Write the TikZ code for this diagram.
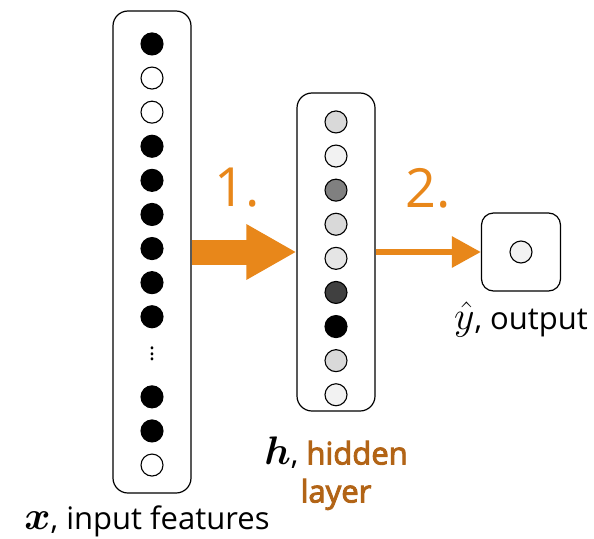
\documentclass[tikz,border=0pt]{standalone}
\usepackage{fontspec,amsmath,bm}
\setmainfont{Open Sans}
\newfontfamily\semib{Open Sans}[FakeBold=3]
\usetikzlibrary{positioning,arrows.meta}
\definecolor{arrorange}{RGB}{232,135,26}
\definecolor{hidbrown}{RGB}{178,100,22}
\newcommand{\bigmath}[1]{\scalebox{1.6}{$#1$}}
\tikzstyle{lbox}=[rectangle, rounded corners=15pt, draw=black, line width=1.2pt,
                  minimum width=78pt, inner sep=0pt]
\tikzstyle{neuron}=[circle, draw=black, line width=1.1pt, minimum size=22pt, inner sep=0pt]
\tikzstyle{lbl}=[inner sep=0pt, font=\fontsize{31}{38}\selectfont, align=center]
\tikzstyle{steplbl}=[inner sep=0pt, text=arrorange, font=\fontsize{54}{60}\selectfont]
\tikzstyle{bigarrow}=[-{Triangle[length=50pt,width=52pt]}, line width=25pt, draw=arrorange]
\tikzstyle{smallarrow}=[-{Triangle[length=29pt,width=30pt]}, line width=6pt, draw=arrorange]

\begin{document}
\begin{tikzpicture}[x=1pt, y=-1pt, node distance=0pt]
\useasboundingbox (0,0) rectangle (594,538);

\node (XBOX) [lbox, minimum height=482pt] at (152,252) {};
\node (X1) [neuron, fill=black, below=22pt of XBOX.north] {};
\node (X2) [neuron, fill=white, below=11pt of X1] {};
\node (X3) [neuron, fill=white, below=11pt of X2] {};
\node (X4) [neuron, fill=black, below=11pt of X3] {};
\node (X5) [neuron, fill=black, below=11pt of X4] {};
\node (X6) [neuron, fill=black, below=11pt of X5] {};
\node (X7) [neuron, fill=black, below=11pt of X6] {};
\node (X8) [neuron, fill=black, below=11pt of X7] {};
\node (X9) [neuron, fill=black, below=11pt of X8] {};
\node (XDOTS) [below=33pt of X9.center, anchor=center, inner sep=0pt,
 font=\fontsize{16}{18}\selectfont] {\scalebox{1.4}{$\vdots$}};
\node (X10) [neuron, fill=black, below=57pt of X9] {};
\node (X11) [neuron, fill=black, below=11pt of X10] {};
\node (X12) [neuron, fill=white, below=11pt of X11] {};
\node (XLAB) [lbl, below=12pt of XBOX, xshift=-5pt] {\bigmath{\bm{x}}, input features};

\node (HBOX) [lbox, minimum height=318pt] at (336,252) {};
\node (H1) [neuron, fill=black!15, below=18pt of HBOX.north] {};
\node (H2) [neuron, fill=black!5, below=11pt of H1] {};
\node (H3) [neuron, fill=black!50, below=11pt of H2] {};
\node (H4) [neuron, fill=black!15, below=11pt of H3] {};
\node (H5) [neuron, fill=black!10, below=11pt of H4] {};
\node (H6) [neuron, fill=black!75, below=11pt of H5] {};
\node (H7) [neuron, fill=black, below=11pt of H6] {};
\node (H8) [neuron, fill=black!15, below=11pt of H7] {};
\node (H9) [neuron, fill=black!5, below=11pt of H8] {};
\node (HLAB) [lbl, below=25pt of HBOX] {\bigmath{\bm{h}}, \textcolor{hidbrown}{\semib hidden}\\
 \textcolor{hidbrown}{\semib layer}};

\node (OBOX) [lbox, rounded corners=12pt, minimum width=79pt, minimum height=78pt]
 at (521,252) {};
\node (Y) [neuron, fill=black!5] at (OBOX.center) {};
\node (YLAB) [lbl, below=10pt of OBOX] {\bigmath{\hat{y}}, output};

 \draw[bigarrow] (XBOX.east) -- (HBOX.west);
 \draw[smallarrow] (HBOX.east) -- (OBOX.west);
\node (ONE) [steplbl] at (237,188) {1.};
\node (TWO) [steplbl] at (428,188) {2.};

\end{tikzpicture}
\end{document}
